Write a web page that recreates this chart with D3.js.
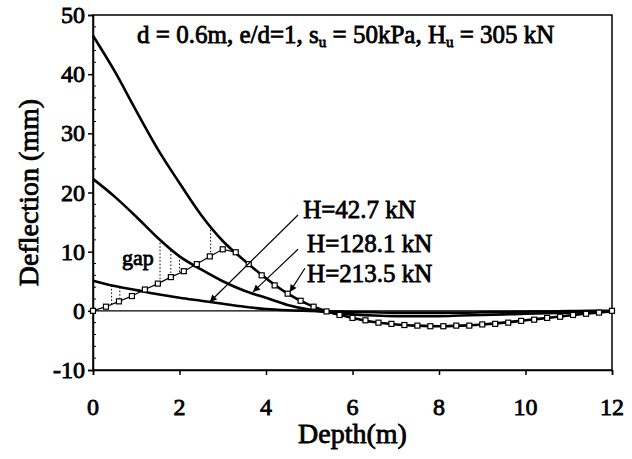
<!DOCTYPE html>
<html><head><meta charset="utf-8">
<script src="https://cdn.jsdelivr.net/npm/d3@7"></script>
</head><body style="margin:0">
<svg id="chart" width="632" height="459"></svg>
<script>
// ---- data ----
const pileDepth = [0,0.5,1,1.5,2,2.5,3,3.5,4,4.5,5,5.5,6,6.5,7,7.5,8,8.5,9,9.5,10,10.5,11,11.5,12];
const pileH213 = [46.5,40.5,33.8,27.3,21.6,16.2,11.8,8.5,5.5,2.9,1.0,-0.3,-1.2,-1.9,-2.3,-2.5,-2.6,-2.5,-2.3,-2.0,-1.6,-1.2,-0.8,-0.4,-0.1];
const pileH128 = [22.3,19.3,15.9,12.3,9.2,7.0,5.0,3.4,2.2,1.0,0.2,-0.3,-0.6,-0.8,-0.9,-0.9,-0.9,-0.8,-0.7,-0.6,-0.5,-0.4,-0.3,-0.2,-0.1];
const pileH43  = [5.1,4.2,3.5,2.8,2.2,1.7,1.2,0.7,0.3,0.1,0,-0.1,-0.2,-0.25,-0.3,-0.3,-0.3,-0.3,-0.25,-0.2,-0.15,-0.1,-0.05,0,0];
const soilDepth = [0,0.3,0.6,0.9,1.2,1.5,1.8,2.1,2.4,2.7,3.0,3.3,3.6,3.9,4.2,4.5,4.8,5.1,5.4,5.7,6.0,6.3,6.6,6.9,7.2,7.5,7.8,8.1,8.4,8.7,9.0,9.3,9.6,9.9,10.2,10.5,10.8,11.1,11.4,11.7,12.0];
const soilDefl  = [0,0.7,1.6,2.5,3.6,4.6,5.7,6.7,7.9,9.2,10.4,9.9,7.9,6.0,4.3,2.9,1.7,0.7,-0.1,-0.7,-1.2,-1.6,-2.0,-2.2,-2.4,-2.5,-2.6,-2.6,-2.5,-2.5,-2.3,-2.2,-2.0,-1.7,-1.5,-1.2,-1.0,-0.7,-0.5,-0.3,0];
const gapDepth = [0.43,0.62,1.55,1.8,2.0,2.72];
const gapFrom  = [4.3,4.0,12.1,10.2,9.2,14.3];
const gapTo    = [1.0,1.5,4.7,5.7,6.3,9.2];
const xTicks = [0,2,4,6,8,10,12];
const yTicks = [-10,0,10,20,30,40,50];
const labelText = ["H=42.7 kN","H=128.1 kN","H=213.5 kN"];
const labelPos = [[4.86,15.7],[4.95,9.9],[4.95,4.9]];
const arrowTail = [[4.74,16.2],[4.74,10.4],[4.9,7.2]];
const arrowTip  = [[2.7,1.5],[3.7,3.2],[4.55,3.2]];

// ---- layout ----
const svg = d3.select("#chart");
const m = {l:93, r:20, t:15, b:89};
const W = 632, H = 459;
const x = d3.scaleLinear().domain([0,12]).range([m.l, W-m.r]);
const y = d3.scaleLinear().domain([-10,50]).range([H-m.b, m.t]);
const FF = '"Liberation Serif"';
// serif text emboldened with a thin stroke
function label(px, py, size, anchor, rot) {
  return svg.append("text").attr("transform", `translate(${px},${py}) rotate(${rot||0})`)
    .attr("font-family",FF).attr("font-size",size)
    .attr("fill","#000").attr("stroke","#000").attr("stroke-width",0.8)
    .attr("text-anchor",anchor||"start");
}

svg.append("defs").append("marker").attr("id","ah").attr("viewBox","0 0 10 10")
  .attr("refX",10).attr("refY",5).attr("markerWidth",9).attr("markerHeight",7)
  .attr("markerUnits","userSpaceOnUse").attr("orient","auto")
  .append("path").attr("d","M0,0L10,5L0,10z").attr("fill","#000");

// frame
svg.append("rect").attr("x",x(0)).attr("y",y(50)).attr("width",x(12)-x(0)).attr("height",y(-10)-y(50))
  .attr("fill","none").attr("stroke","#000").attr("stroke-width",1.5);

// axes (tick lines from d3 axis, tick labels drawn separately)
const xa = svg.append("g").attr("transform",`translate(0,${y(-10)})`)
  .call(d3.axisBottom(x).tickValues(xTicks).tickSize(5).tickFormat(""));
const ya = svg.append("g").attr("transform",`translate(${x(0)},0)`)
  .call(d3.axisLeft(y).tickValues(yTicks).tickSize(5).tickFormat(""));
[xa,ya].forEach(g=>{
  g.select(".domain").attr("stroke","#000").attr("stroke-width",1.5);
  g.selectAll(".tick line").attr("stroke","#000").attr("stroke-width",1.5);
});
xTicks.forEach(v => label(x(v), 415, 24, "middle").text(v));
yTicks.forEach(v => label(x(0)-8, y(v)+8, 24, "end").text(v));
// minor ticks inside left axis
const minorY = d3.range(-10,51,2).filter(v=>v%10!==0);
svg.append("g").selectAll("line").data(minorY).join("line")
  .attr("x1",x(0)).attr("x2",x(0)+3).attr("y1",d=>y(d)).attr("y2",d=>y(d)).attr("stroke","#000").attr("stroke-width",1);

// zero line
svg.append("line").attr("x1",x(0)).attr("x2",x(12)).attr("y1",y(0)).attr("y2",y(0)).attr("stroke","#000").attr("stroke-width",1.2);

// gap dotted lines
svg.append("g").selectAll("line").data(gapDepth).join("line")
  .attr("x1",d=>x(d)).attr("x2",d=>x(d)).attr("y1",(d,i)=>y(gapFrom[i])).attr("y2",(d,i)=>y(gapTo[i]))
  .attr("stroke","#000").attr("stroke-width",1).attr("stroke-dasharray","1.5,2");

// pile curves
const line = d3.line().x(d=>x(d[0])).y(d=>y(d[1])).curve(d3.curveMonotoneX);
[pileH43,pileH128,pileH213].forEach(s=>{
  svg.append("path").datum(pileDepth.map((d,i)=>[d,s[i]])).attr("d",line)
    .attr("fill","none").attr("stroke","#000").attr("stroke-width",2.6);
});

// soil series
const soil = soilDepth.map((d,i)=>[d,soilDefl[i]]);
svg.append("path").datum(soil).attr("d",d3.line().x(d=>x(d[0])).y(d=>y(d[1])))
  .attr("fill","none").attr("stroke","#000").attr("stroke-width",1.2);
svg.append("g").selectAll("rect").data(soil).join("rect")
  .attr("x",d=>x(d[0])-2.5).attr("y",d=>y(d[1])-2.5).attr("width",5).attr("height",5)
  .attr("fill","#fff").attr("stroke","#000").attr("stroke-width",1.2);

// arrows and labels
svg.append("g").selectAll("line").data(arrowTail).join("line")
  .attr("x1",d=>x(d[0])).attr("y1",d=>y(d[1])).attr("x2",(d,i)=>x(arrowTip[i][0])).attr("y2",(d,i)=>y(arrowTip[i][1]))
  .attr("stroke","#000").attr("stroke-width",1.2).attr("marker-end","url(#ah)");
labelText.forEach((s,i) => label(x(labelPos[i][0]), y(labelPos[i][1]), 25).text(s));

label(x(0.67), y(7.8), 22).text("gap");

// title
const t = label(x(1.02), y(45.2), 25);
t.append("tspan").text("d = 0.6m, e/d=1, s");
t.append("tspan").attr("font-size",15).attr("dy",4).text("u");
t.append("tspan").attr("dy",-4).text(" = 50kPa, H");
t.append("tspan").attr("font-size",15).attr("dy",4).text("u");
t.append("tspan").attr("dy",-4).text(" = 305 kN");

// axis titles
label(x(6), 443, 28, "middle").text("Depth(m)");
label(38, y(20), 28, "middle", -90).text("Deflection (mm)");
</script>
</body></html>
